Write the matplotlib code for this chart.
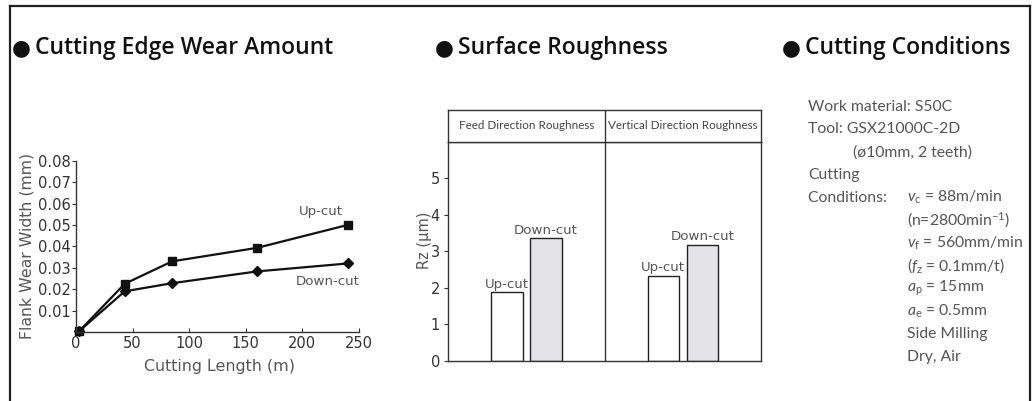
import matplotlib
matplotlib.use("Agg")
import matplotlib.pyplot as plt
from matplotlib.lines import Line2D

# ---------------- data ----------------
cut_length = [3, 43, 85, 160, 240]
upcut_wear = [0.0005, 0.0225, 0.033, 0.0393, 0.050]
downcut_wear = [0.0005, 0.019, 0.0228, 0.0283, 0.032]
x_ticks_wear = [0, 50, 100, 150, 200, 250]
y_ticks_wear = [0.01, 0.02, 0.03, 0.04, 0.05, 0.06, 0.07, 0.08]

rough_groups = ["Feed Direction Roughness", "Vertical Direction Roughness"]
rough_upcut = [1.87, 2.33]
rough_downcut = [3.35, 3.17]
rough_yticks = [0, 1, 2, 3, 4, 5]

titles = ["Cutting Edge Wear Amount", "Surface Roughness", "Cutting Conditions"]

cond_lines = [
    (0, "Work material: S50C"),
    (0, "Tool: GSX21000C-2D"),
    (1, "(ø10mm, 2 teeth)"),
    (0, "Cutting"),
    (0, "Conditions: "),
    (2, "(n=2800min$^{-1}$)"),
    (2, r"$v_\mathrm{f}$ = 560mm/min"),
    (2, r"($f_\mathrm{z}$ = 0.1mm/t)"),
    (2, r"$a_\mathrm{p}$ = 15mm"),
    (2, r"$a_\mathrm{e}$ = 0.5mm"),
    (2, "Side Milling"),
    (2, "Dry, Air"),
]
vc_text = r"$v_\mathrm{c}$ = 88m/min"

# ---------------- style ----------------
W, H = 1032, 401
GEO = ["DejaVu Sans"]
TITLE = ["Open Sans", "DejaVu Sans"]
LIGHT = ["Lato", "DejaVu Sans"]
plt.rcParams["font.family"] = GEO
plt.rcParams["mathtext.fontset"] = "custom"
plt.rcParams["mathtext.rm"] = "Lato"
plt.rcParams["mathtext.it"] = "Lato:italic"
AX = "#333333"

fig = plt.figure(figsize=(W / 100, H / 100), dpi=100)
renderer = fig.canvas.get_renderer()


def fx(px):
    return px / W


def fy(py):
    return 1 - py / H


def size_for(text, target_px, family, weight="normal"):
    t = fig.text(0, 0, text, fontsize=10, family=family, fontweight=weight)
    w = t.get_window_extent(renderer).width
    t.remove()
    return 10 * target_px / w


# frame
fig.add_artist(Line2D([fx(9.5), fx(9.5)], [fy(5.5), fy(401)], color="#222222", lw=1.6))
fig.add_artist(Line2D([fx(9.5), fx(1029.5)], [fy(5.5), fy(5.5)], color="#222222", lw=1.6))
fig.add_artist(Line2D([fx(1029.5), fx(1029.5)], [fy(5.5), fy(401)], color="#222222", lw=1.6))

# titles
title_bullet_x = [21, 444, 791]
title_text_x = [35, 458, 805]
title_targets = [348, 210, 206]
TY = 48
tsize = min(size_for(t, w, TITLE, "semibold") for t, w in zip(titles, title_targets))
for bx, tx, t in zip(title_bullet_x, title_text_x, titles):
    fig.text(fx(bx), fy(TY), "\u25CF", family=GEO, fontsize=tsize * 0.95,
             color="#111111", va="center", ha="center")
    fig.text(fx(tx), fy(TY), t, fontsize=tsize, color="#111111",
             va="center", ha="left", family=TITLE, fontweight="semibold")

# ---------------- wear chart ----------------
ax1 = fig.add_axes([fx(76), fy(332), fx(359 - 76), (332 - 160.7) / H])
ax1.plot(cut_length, upcut_wear, color="#111111", lw=1.6, marker="s", ms=5.5, clip_on=False)
ax1.plot(cut_length, downcut_wear, color="#111111", lw=1.6, marker="D", ms=5, clip_on=False)
ax1.set_xlim(0, 250)
ax1.set_ylim(0, 0.08)
ax1.set_xticks(x_ticks_wear)
ax1.set_yticks(y_ticks_wear)
ax1.set_yticklabels([f"{v:.2f}" for v in y_ticks_wear])
ax1.spines["top"].set_visible(False)
ax1.spines["right"].set_visible(False)
for s in ("left", "bottom"):
    ax1.spines[s].set_color(AX)
    ax1.spines[s].set_linewidth(1.0)
ax1.tick_params(axis="x", direction="in", length=3, width=0.8, colors=AX,
                labelsize=10.5, labelcolor="#333333", pad=3)
ax1.tick_params(axis="y", direction="out", length=3, width=0.8, colors=AX,
                labelsize=10.5, labelcolor="#333333", pad=1)
fig.text(fx(220), fy(366.7), "Cutting Length (m)", color="#555555",
         fontsize=size_for("Cutting Length (m)", 151, GEO), ha="center", va="center")
fig.text(fx(27), fy(246), "Flank Wear Width (mm)", color="#555555",
         fontsize=size_for("Flank Wear Width (mm)", 187, GEO),
         ha="center", va="center", rotation=90)

lab_size = size_for("Down-cut", 64, GEO)
ax1.text(216, 0.0562, "Up-cut", fontsize=lab_size, color="#555555", ha="center", va="center")
ax1.text(222, 0.0237, "Down-cut", fontsize=lab_size, color="#555555", ha="center", va="center")

# ---------------- roughness chart ----------------
ax2 = fig.add_axes([fx(448.3), fy(360.7), fx(761 - 448.3), (360.7 - 141.7) / H])
centers = [0.5, 1.5]
bw = 0.2
ax2.bar([c - 0.125 for c in centers], rough_upcut, width=bw, color="white",
        edgecolor="#222222", linewidth=1.0)
ax2.bar([c + 0.125 for c in centers], rough_downcut, width=bw, color="#e4e4e6",
        edgecolor="#222222", linewidth=1.0)
for c, u, d in zip(centers, rough_upcut, rough_downcut):
    ax2.text(c - 0.125, u + 0.05, "Up-cut", fontsize=lab_size, color="#555555",
             ha="center", va="bottom")
    ax2.text(c + 0.125, d + 0.05, "Down-cut", fontsize=lab_size, color="#555555",
             ha="center", va="bottom")
ax2.axvline(1, color=AX, lw=1.0)
ax2.set_xlim(0, 2)
ax2.set_ylim(0, 6)
ax2.set_xticks([])
ax2.set_yticks(rough_yticks)
for s in ax2.spines.values():
    s.set_color(AX)
    s.set_linewidth(1.0)
ax2.tick_params(axis="y", direction="out", length=3, width=0.8, colors=AX,
                labelsize=10.5, labelcolor="#333333", pad=3)
fig.text(fx(424), fy(240), "Rz (\u03bcm)", fontsize=10.5, color="#555555",
         ha="center", va="center", rotation=90)

axh = fig.add_axes([fx(448.3), fy(141.7), fx(761 - 448.3), (141.7 - 110) / H])
axh.set_xlim(0, 2)
axh.set_ylim(0, 1)
axh.set_xticks([])
axh.set_yticks([])
for s in axh.spines.values():
    s.set_color(AX)
    s.set_linewidth(1.0)
axh.axvline(1, color=AX, lw=1.0)
hsize = size_for(rough_groups[1], 148, LIGHT)
for c, g in zip(centers, rough_groups):
    axh.text(c, 0.5, g, fontsize=hsize, color="#444444", ha="center", va="center",
             family=LIGHT)

# ---------------- conditions ----------------
indent = {0: 808, 1: 853, 2: 907}
y0 = 106.7
dy = 22.75
csize = size_for("= 560mm/min", 99, LIGHT)
for i, (lvl, t) in enumerate(cond_lines):
    fig.text(fx(indent[lvl]), fy(y0 + i * dy), t, fontsize=csize, color="#555555",
             ha="left", va="center", family=LIGHT)
fig.text(fx(907), fy(y0 + 4 * dy), vc_text, fontsize=csize, color="#555555",
         ha="left", va="center", family=LIGHT)

fig.savefig("out.png", dpi=100)
